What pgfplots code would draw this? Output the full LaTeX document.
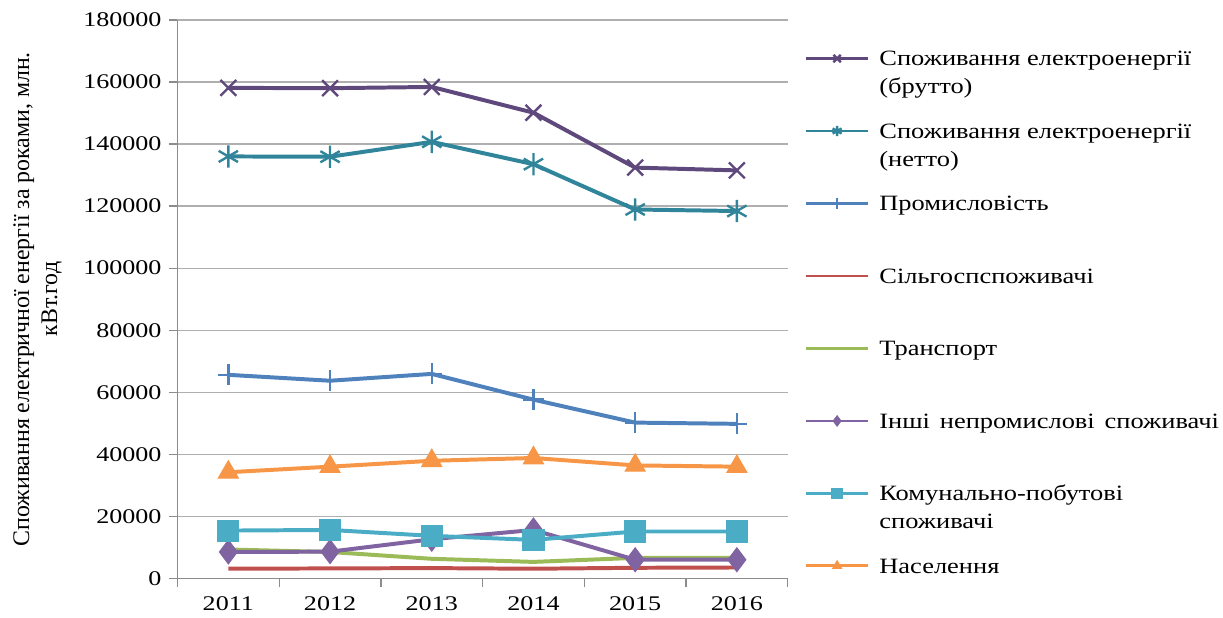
\documentclass[border=0pt]{standalone}
\usepackage{fontspec}
\setmainfont{Liberation Serif}[FakeStretch=1.25]
\newfontfamily\plainserif{Liberation Serif}
\newfontfamily\legendserif{Liberation Serif}[FakeStretch=1.21]
\usepackage{pgfplots}
\pgfplotsset{compat=1.18}

\definecolor{cBrutto}{RGB}{94,72,124}
\definecolor{cNetto}{RGB}{49,133,155}
\definecolor{cInd}{RGB}{79,129,189}
\definecolor{cAgr}{RGB}{192,80,77}
\definecolor{cTrans}{RGB}{155,187,89}
\definecolor{cOther}{RGB}{128,100,162}
\definecolor{cKom}{RGB}{75,172,198}
\definecolor{cPop}{RGB}{247,150,70}
\definecolor{cGrid}{RGB}{175,175,175}

% legend entry: first line sits on the row, the rest hangs below it
\newcommand\lgd[1]{\hspace{3bp}\begin{tabular}[t]{@{}l@{}}#1\end{tabular}}

\begin{document}
\begin{tikzpicture}
\begin{axis}[
    scale only axis,
    width=306bp, height=280bp,
    xmin=2010.5, xmax=2016.5,
    ymin=0, ymax=180000,
    xtick={2010.5,2011.5,2012.5,2013.5,2014.5,2015.5,2016.5},
    x tick label as interval,
    xticklabels={2011,2012,2013,2014,2015,2016},
    ytick={0,20000,40000,60000,80000,100000,120000,140000,160000,180000},
    yticklabels={0,20000,40000,60000,80000,100000,120000,140000,160000,180000},
    scaled y ticks=false,
    major tick length=4.5bp,
    tick style={cGrid!80!black, line width=0.6pt},
    tick align=outside,
    axis x line*=bottom,
    axis y line*=left,
    axis line style={-, cGrid!80!black, line width=0.8pt},
    ymajorgrids=true,
    grid style={cGrid, line width=0.6pt},
    tick label style={font=\fontsize{10.5}{13}\selectfont},
    xticklabel style={yshift=-1bp},
    ylabel={Споживання електричної енергії за роками, млн.\\кВт.год},
    ylabel style={font=\plainserif\fontsize{12}{14}\selectfont, align=center, yshift=4bp},
    legend style={
        at={(1.028,0.96)}, anchor=north west,
        draw=none, fill=none, inner sep=0pt, outer sep=0pt,
        row sep=21.1bp,
        font=\legendserif\fontsize{11}{14}\selectfont,
        cells={anchor=base west},
    },
    legend image code/.code={
        \draw[mark repeat=2, mark phase=2, #1, line width=1.4pt, mark size=2.6bp]
            plot coordinates {(0bp,3.6bp) (15.5bp,3.6bp) (31bp,3.6bp)};
    },
    every axis plot/.append style={line width=2pt},
    % keep the reference's margins above and left of the axis
    extra description/.code={
        \path (rel axis cs:0,1) ++(-89bp,10bp);
    },
]

\addplot[color=cBrutto, mark=x, mark size=5.6bp, mark options={line width=1.2pt}]
    coordinates {
        (2011,158100)(2012,158000)(2013,158400)(2014,150100)(2015,132400)(2016,131500)
    };
\addlegendentry{\lgd{Споживання електроенергії\\(брутто)}}

\addplot[color=cNetto, mark=asterisk, mark size=5.6bp, mark options={line width=1.2pt}]
    coordinates {
        (2011,136000)(2012,135900)(2013,140700)(2014,133500)(2015,118900)(2016,118400)
    };
\addlegendentry{\lgd{Споживання електроенергії\\(нетто)}}

\addplot[color=cInd, mark=+, mark size=5.3bp, mark options={line width=1.2pt}]
    coordinates {
        (2011,65600)(2012,63700)(2013,65900)(2014,57600)(2015,50200)(2016,49800)
    };
\addlegendentry{\lgd{Промисловість}}

\addplot[color=cAgr, mark=none]
    coordinates {
        (2011,3100)(2012,3200)(2013,3300)(2014,3100)(2015,3400)(2016,3500)
    };
\addlegendentry{\lgd{Сільгоспспоживачі}}

\addplot[color=cTrans, mark=none]
    coordinates {
        (2011,9300)(2012,8500)(2013,6300)(2014,5300)(2015,6600)(2016,6600)
    };
\addlegendentry{\lgd{Транспорт}}

\addplot[color=cOther, mark=diamond*, mark size=6bp, mark options={line width=0.5pt}]
    coordinates {
        (2011,8500)(2012,8600)(2013,12600)(2014,15600)(2015,6000)(2016,6000)
    };
\addlegendentry{\lgd{Інші\hspace{0.15em} непромислові\hspace{0.15em} споживачі}}

\addplot[color=cKom, mark=square*, mark size=5.3bp, mark options={line width=0.5pt}]
    coordinates {
        (2011,15400)(2012,15600)(2013,13700)(2014,12400)(2015,15100)(2016,15100)
    };
\addlegendentry{\lgd{Комунально-побутові\\споживачі}}

\addplot[color=cPop, mark=triangle*, mark size=5.8bp, mark options={line width=0.5pt}]
    coordinates {
        (2011,34200)(2012,36000)(2013,37900)(2014,38800)(2015,36400)(2016,36000)
    };
\addlegendentry{\lgd{Населення}}

\end{axis}
\end{tikzpicture}
\end{document}
